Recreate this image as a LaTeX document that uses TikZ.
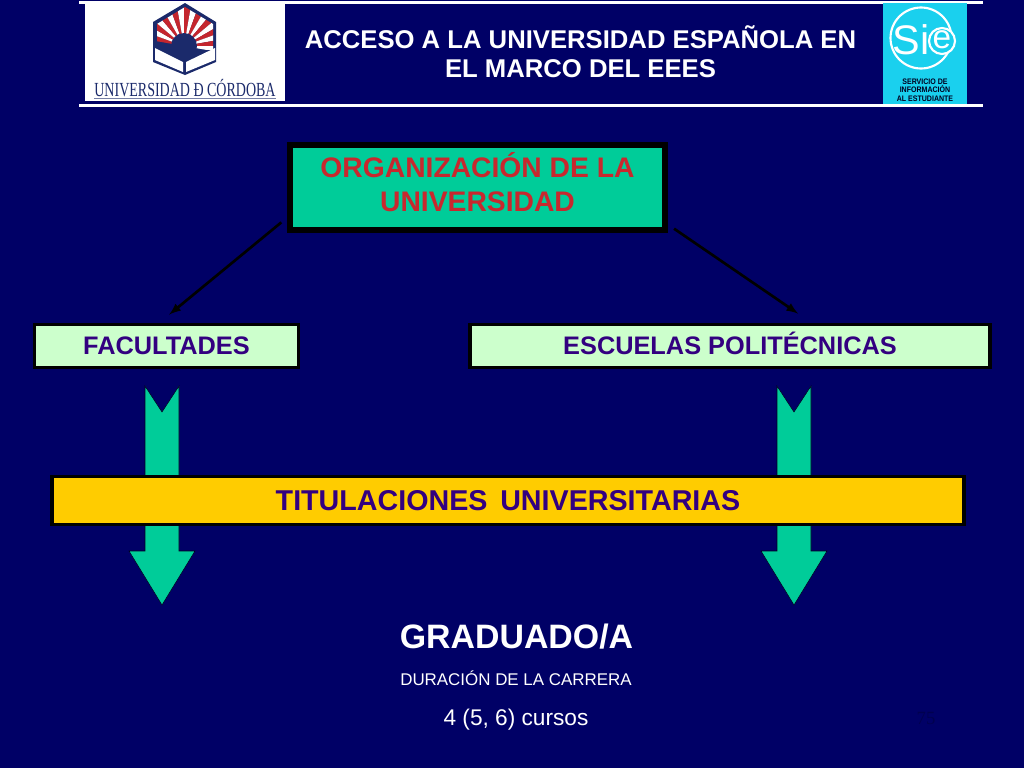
\documentclass[tikz,border=0pt]{standalone}
\usepackage{fontspec}
\setmainfont{Liberation Sans}
\newfontfamily\logoserif{Liberation Serif}
\newfontfamily\logonarrow[FakeStretch=0.70]{Liberation Serif}
\newfontfamily\sienarrow[FakeStretch=0.88]{Liberation Sans}
\definecolor{navybg}{HTML}{000066}
\definecolor{seagreen}{HTML}{00CC99}
\definecolor{palegreen}{HTML}{CCFFCC}
\definecolor{goldbar}{HTML}{FFCC00}
\definecolor{inkviolet}{HTML}{330080}
\definecolor{inkred}{HTML}{C8282E}
\definecolor{siecyan}{HTML}{1AD0EE}
\definecolor{logoblue}{HTML}{1B2A6B}
\definecolor{logored}{HTML}{C4262E}
\definecolor{pageink}{HTML}{00004F}
\tikzset{
    titlebox/.style={draw=black, line width=4.5pt, fill=seagreen, text=inkred, font=\bfseries\fontsize{21.2}{25.5}\selectfont, align=center, text depth=8pt, minimum width=281.25pt, minimum height=63.75pt, inner sep=0pt},
    levelbox/.style={draw=black, line width=2.4pt, fill=palegreen, text=inkviolet, font=\bfseries\fontsize{19}{22}\selectfont, text height=12pt, text depth=0pt, minimum height=32.6pt, inner sep=0pt},
    linkarrow/.style={-latex, black, line width=2pt},
    bigarrow/.style={fill=seagreen, draw=black!70!navybg, line width=0.4pt, line join=miter},
    whitetext/.style={text=white, inner sep=0pt}
}
\begin{document}
\begin{tikzpicture}[x=0.75pt, y=-0.75pt]
    \fill[navybg] (0,0) rectangle (1024,768);
    \useasboundingbox (0,0) rectangle (1024,768);

    \fill[white] (85,2) rectangle (285,101);
    \fill[white] (79,0.5) rectangle (983,3.5);
    \fill[white] (79,103.5) rectangle (983,106.5);

    \fill[logoblue] (185,3) -- (216,22) -- (216,62) -- (185,75) -- (153,62) -- (153,22) -- cycle;
    \begin{scope}
        \clip (185,7) -- (213,24) -- (213,58) -- (157,58) -- (157,24) -- cycle;
        \foreach \a in {190,210,...,350} {
            \fill[logored] (184,46) -- ++(\a:42) arc[start angle=\a, delta angle=10, radius=42] -- cycle;
            \fill[white] (184,46) -- ++(\a+10:42) arc[start angle=\a+10, delta angle=10, radius=42] -- cycle;
        }
    \end{scope}
    \fill[logoblue] (157,50) rectangle (213,60);
    \fill[logoblue] (184,46) circle (13);
    \fill[white] (155,48) -- (183,62) -- (183,72) -- (155,60) -- cycle;
    \fill[white] (215,48) -- (186,62) -- (186,72) -- (215,60) -- cycle;
    \node[text=logoblue, inner sep=0pt, font=\logonarrow\fontsize{15}{16}\selectfont] (logotext) at (185,88) {UNIVERSIDAD Ð CÓRDOBA};
    \fill[logoblue!60] (94,97.5) rectangle (276,99);

    \node[whitetext, font=\bfseries\fontsize{19.25}{21.75}\selectfont, align=center] (head) at (580.5,51.5) {ACCESO A LA UNIVERSIDAD ESPAÑOLA EN\\EL MARCO DEL EEES};

    \fill[siecyan] (883,3) rectangle (967,104);
    \draw[white, line width=1.6pt] (921,38) circle (30.5);
    \node[whitetext, font=\fontsize{31}{31}\selectfont] (sietext) at (911,40) {Si};
    \draw[white, line width=1.6pt, fill=siecyan] (942,41) circle (13);
    \node[whitetext, font=\fontsize{25}{25}\selectfont] (sieletter) at (942,39.5) {e};
    \node[text=black!70!navybg, inner sep=0pt, align=center, font=\sienarrow\bfseries\fontsize{6}{6.5}\selectfont] (sieinfo) at (925,90) {SERVICIO DE\\INFORMACIÓN\\AL ESTUDIANTE};

    \node[titlebox] (org) at (477.5,187.5) {ORGANIZACIÓN DE LA\\UNIVERSIDAD};
    \node[levelbox, minimum width=198.5pt] (fac) at (166.5,346) {FACULTADES};
    \node[levelbox, minimum width=390pt] (esc) at (730,346) {ESCUELAS POLITÉCNICAS};

    \foreach \ax in {162,794} {
        \draw[bigarrow] (\ax-17,386) -- (\ax,412) -- (\ax+17,386) -- (\ax+17,551) -- (\ax+33,551) -- (\ax,605) -- (\ax-33,551) -- (\ax-17,551) -- cycle;
    }

    \node[draw=black, line width=2.8pt, fill=goldbar, text=inkviolet, font=\bfseries\fontsize{21.5}{24}\selectfont, minimum width=684pt, minimum height=36pt, inner sep=0pt] (tit) at (508,500.5) {TITULACIONES\, UNIVERSITARIAS};

    \draw[linkarrow, shorten <=5.5pt, shorten >=9.5pt] (org.189) -- (fac.107.6);
    \draw[linkarrow, shorten <=5.5pt, shorten >=12pt] (org.-11.6) -- (esc.16.5);

    \node[whitetext, font=\bfseries\fontsize{25.4}{28}\selectfont] (grad) at (516.5,637) {GRADUADO/A};
    \node[whitetext, font=\fontsize{12.7}{15}\selectfont] (dur) at (516,678.5) {DURACIÓN DE LA CARRERA};
    \node[whitetext, font=\fontsize{17}{19}\selectfont] (curs) at (516,720) {4 (5, 6) cursos};
    \node[text=pageink, inner sep=0pt, font=\logoserif\fontsize{14}{16}\selectfont] (page) at (926,718) {75};
\end{tikzpicture}
\end{document}
